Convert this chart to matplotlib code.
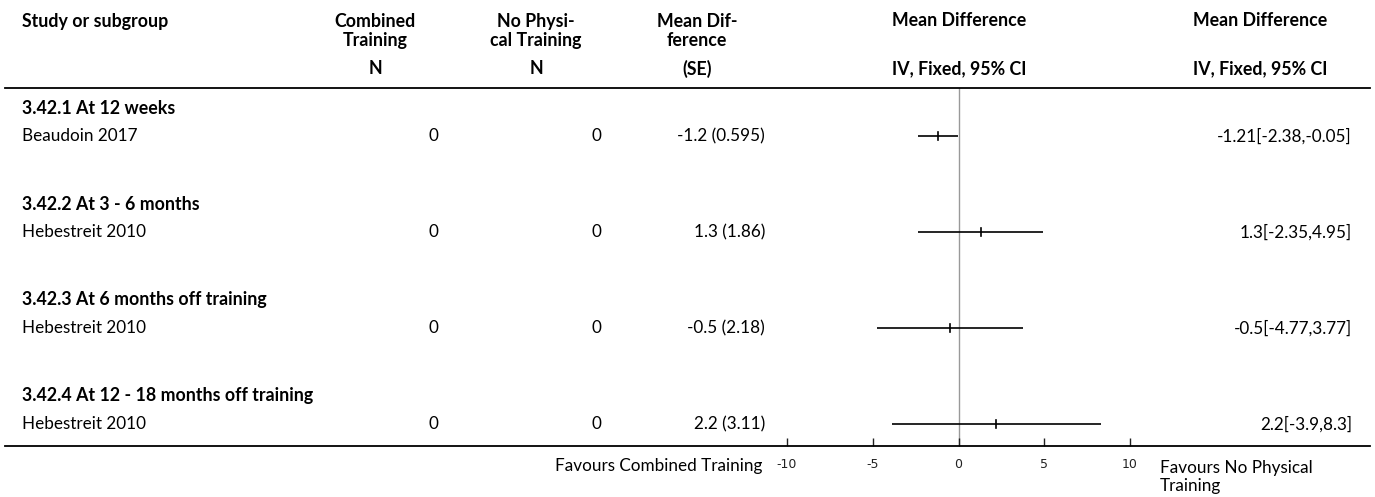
import matplotlib
matplotlib.use("Agg")
import matplotlib.pyplot as plt
from matplotlib.lines import Line2D
import matplotlib.transforms as mtransforms

plt.rcParams['font.family'] = ['Lato', 'DejaVu Sans']

# Data
subgroups = ["3.42.1 At 12 weeks", "3.42.2 At 3 - 6 months",
             "3.42.3 At 6 months off training", "3.42.4 At 12 - 18 months off training"]
studies = ["Beaudoin 2017", "Hebestreit 2010", "Hebestreit 2010", "Hebestreit 2010"]
n_combined = [0, 0, 0, 0]
n_none = [0, 0, 0, 0]
md_se_labels = ["-1.2 (0.595)", "1.3 (1.86)", "-0.5 (2.18)", "2.2 (3.11)"]
md = [-1.21, 1.3, -0.5, 2.2]
ci_low = [-2.38, -2.35, -4.77, -3.9]
ci_high = [-0.05, 4.95, 3.77, 8.3]
ci_labels = ["-1.21[-2.38,-0.05]", "1.3[-2.35,4.95]", "-0.5[-4.77,3.77]", "2.2[-3.9,8.3]"]
xticks = [-10, -5, 0, 5, 10]

W, H = 1375, 497
fig = plt.figure(figsize=(W / 100, H / 100), dpi=100)

def fx(px):
    return px / W

def fy(py):
    return 1 - py / H

# Forest plot axes
top_px, bot_px = 88, 446
ax = fig.add_axes([fx(787), fy(bot_px), fx(1130) - fx(787), fy(top_px) - fy(bot_px)])
ax.set_xlim(-10, 10)
block = 96.0
ax.set_ylim((bot_px - 108) / block, (top_px - 108) / block)
for s in ax.spines.values():
    s.set_visible(False)
ax.set_yticks([])
ax.set_xticks(xticks)
ax.set_xticklabels([str(t) for t in xticks], family='DejaVu Sans', fontsize=9, color='#222222')
ax.tick_params(axis='x', direction='in', length=6, width=1, pad=9, color='#222222')
ax.patch.set_alpha(0)

ax.axvline(0, color='#999999', lw=1, zorder=1)

study_off = 28 / block
for k in range(len(studies)):
    y = k + study_off
    ax.plot([ci_low[k], ci_high[k]], [y, y], color='black', lw=1.2, solid_capstyle='butt', zorder=3)
    ax.plot([md[k], md[k]], [y - 0.045, y + 0.045], color='black', lw=1.2, zorder=3)

# Row text aligned with the axes rows
tr = mtransforms.blended_transform_factory(fig.transFigure, ax.transData)
fs = 12.3
fb = 12.8
for k in range(len(studies)):
    y = k + study_off
    ax.text(fx(22), k, subgroups[k], transform=tr, fontsize=fb, fontweight='bold', va='center', ha='left')
    ax.text(fx(22), y, studies[k], transform=tr, fontsize=fs, va='center', ha='left')
    ax.text(fx(438), y, str(n_combined[k]), transform=tr, fontsize=fs, va='center', ha='right')
    ax.text(fx(601), y, str(n_none[k]), transform=tr, fontsize=fs, va='center', ha='right')
    ax.text(fx(765), y, md_se_labels[k], transform=tr, fontsize=fs, va='center', ha='right')
    ax.text(fx(1352), y, ci_labels[k], transform=tr, fontsize=fs, va='center', ha='right')

# Header
hkw = dict(fontsize=fb, fontweight='bold', va='center', ha='center', linespacing=1.1)
fig.text(fx(22), fy(21), "Study or subgroup", fontsize=fb, fontweight='bold', va='center', ha='left')
fig.text(fx(375), fy(31), "Combined\nTraining", **hkw)
fig.text(fx(536), fy(31), "No Physi-\ncal Training", **hkw)
fig.text(fx(697), fy(31), "Mean Dif-\nference", **hkw)
fig.text(fx(959), fy(21), "Mean Difference", **hkw)
fig.text(fx(1260), fy(21), "Mean Difference", **hkw)
fig.text(fx(375), fy(69), "N", **hkw)
fig.text(fx(536), fy(69), "N", **hkw)
fig.text(fx(697), fy(69), "(SE)", **hkw)
fig.text(fx(959), fy(69), "IV, Fixed, 95% CI", **hkw)
fig.text(fx(1260), fy(69), "IV, Fixed, 95% CI", **hkw)

# Table rules
for py in (top_px, bot_px):
    fig.add_artist(Line2D([fx(5), fx(1370)], [fy(py), fy(py)], color='black', lw=1.3))

# Favours labels
fig.text(fx(762), fy(466), "Favours Combined Training", fontsize=fs, va='center', ha='right')
fig.text(fx(1160), fy(477), "Favours No Physical\nTraining", fontsize=fs, va='center', ha='left', linespacing=1.15)

fig.savefig("out.png", dpi=100)
